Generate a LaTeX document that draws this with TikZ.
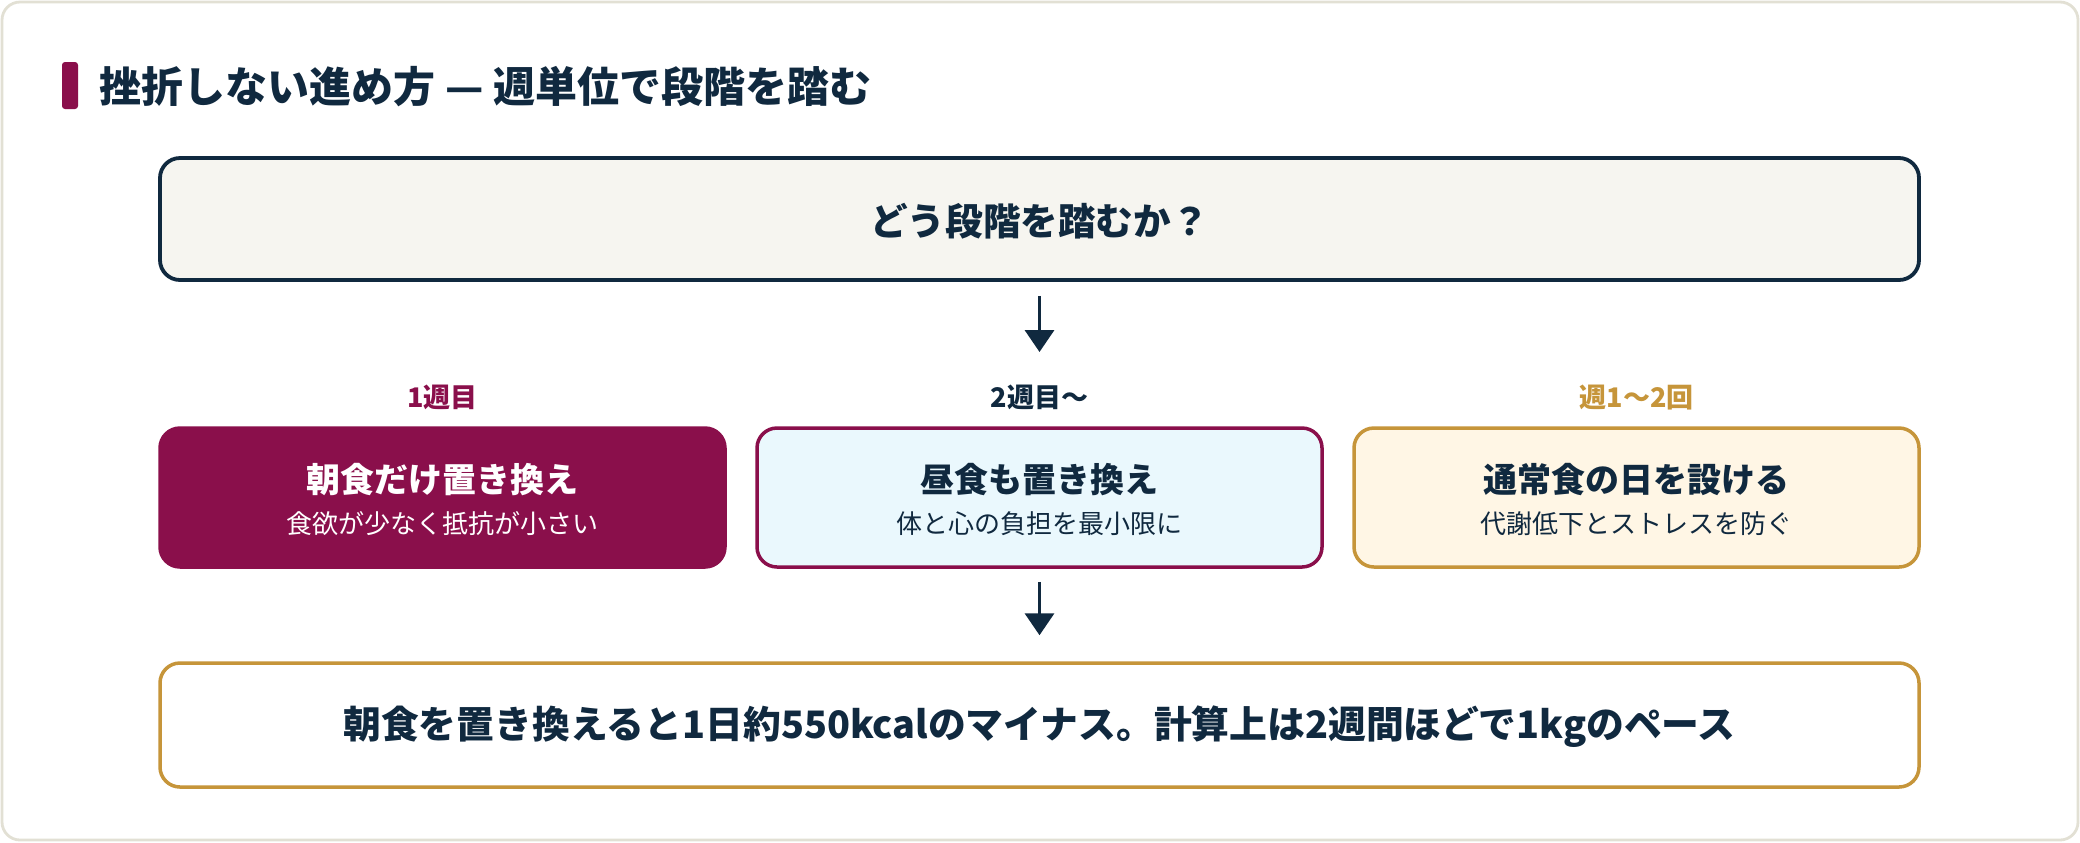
\documentclass[tikz,border=0pt]{standalone}
\usepackage{fontspec}
\setmainfont{Noto Sans CJK JP}
\usetikzlibrary{arrows.meta}
\definecolor{navy}{HTML}{10293F}
\definecolor{plum}{HTML}{8A0F4B}
\definecolor{gold}{HTML}{C6953A}
\definecolor{skyfill}{HTML}{EAF8FD}
\definecolor{creamfill}{HTML}{FFF6E5}
\definecolor{qfill}{HTML}{F6F5F0}
\definecolor{cardline}{HTML}{E2E0D4}
\begin{document}
\begin{tikzpicture}[x=0.5pt,y=-0.5pt,
  boxbase/.style={draw, line width=1.75pt, rounded corners=10pt, inner sep=0pt},
  qbox/.style={boxbase, draw=navy, fill=qfill, line width=1.9pt, minimum width=879.5pt, minimum height=61pt},
  stagebox/.style={boxbase, minimum width=282.5pt, minimum height=69.5pt},
  finbox/.style={boxbase, draw=gold, fill=white, minimum width=879.5pt, minimum height=62pt},
  maintext/.style={font=\fontsize{18.9}{22}\selectfont\bfseries, text=navy, inner sep=0pt},
  labtext/.style={font=\fontsize{13.5}{16}\selectfont\bfseries, inner sep=0pt},
  stagehead/.style={font=\fontsize{17}{20}\selectfont\bfseries, inner sep=0pt},
  stagesub/.style={font=\fontsize{13}{16}\selectfont, inner sep=0pt},
  arr/.style={draw=navy, line width=1.8pt, -{Triangle[width=14.5pt,length=11pt]}}
]
\useasboundingbox (0,0) rectangle (2080,842);
\draw[cardline, line width=1.4pt, fill=white, rounded corners=9pt] (2,2) rectangle (2078,840);
% title
\fill[plum, rounded corners=1.5pt] (62,62) rectangle (78,109);
\node[anchor=west, font=\fontsize{21}{25}\selectfont\bfseries, text=navy, inner sep=0pt] (title) at (99,87) {挫折しない進め方 — 週単位で段階を踏む};
% question
\node[qbox] (q) at (1039.5,219) {};
\node[maintext, font=\fontsize{18.8}{22}\selectfont\bfseries] (qt) at (1039.5,221) {どう段階を踏むか？};
% labels
\node[labtext, text=plum] (l1) at (442.5,397.5) {1週目};
\node[labtext, text=navy] (l2) at (1039.5,397.5) {2週目〜};
\node[labtext, text=gold] (l3) at (1636.5,397.5) {週1〜2回};
% stage boxes
\node[stagebox, draw=plum, fill=plum] (b1) at (442.5,497.5) {};
\node[stagebox, draw=plum, fill=skyfill] (b2) at (1039.5,497.5) {};
\node[stagebox, draw=gold, fill=creamfill] (b3) at (1636.5,497.5) {};
\node[stagehead, text=white] (b1h) at (442.5,480) {朝食だけ置き換え};
\node[stagesub, text=white] (b1s) at (442.5,524) {食欲が少なく抵抗が小さい};
\node[stagehead, text=navy] (b2h) at (1039.5,480) {昼食も置き換え};
\node[stagesub, text=navy] (b2s) at (1039.5,524) {体と心の負担を最小限に};
\node[stagehead, text=navy] (b3h) at (1636.5,480) {通常食の日を設ける};
\node[stagesub, text=navy] (b3s) at (1636.5,524) {代謝低下とストレスを防ぐ};
% final
\node[finbox] (fin) at (1039.5,725) {};
\node[maintext] (fint) at (1039.5,727) {朝食を置き換えると1日約550kcalのマイナス。計算上は2週間ほどで1kgのペース};
% arrows
\coordinate (a1end) at (1039.5,352);
\draw[arr, shorten <=7pt] (q.south) -- (a1end);
\draw[arr, shorten <=6.5pt, shorten >=13pt] (b2.south) -- (fin.north);
\end{tikzpicture}
\end{document}
